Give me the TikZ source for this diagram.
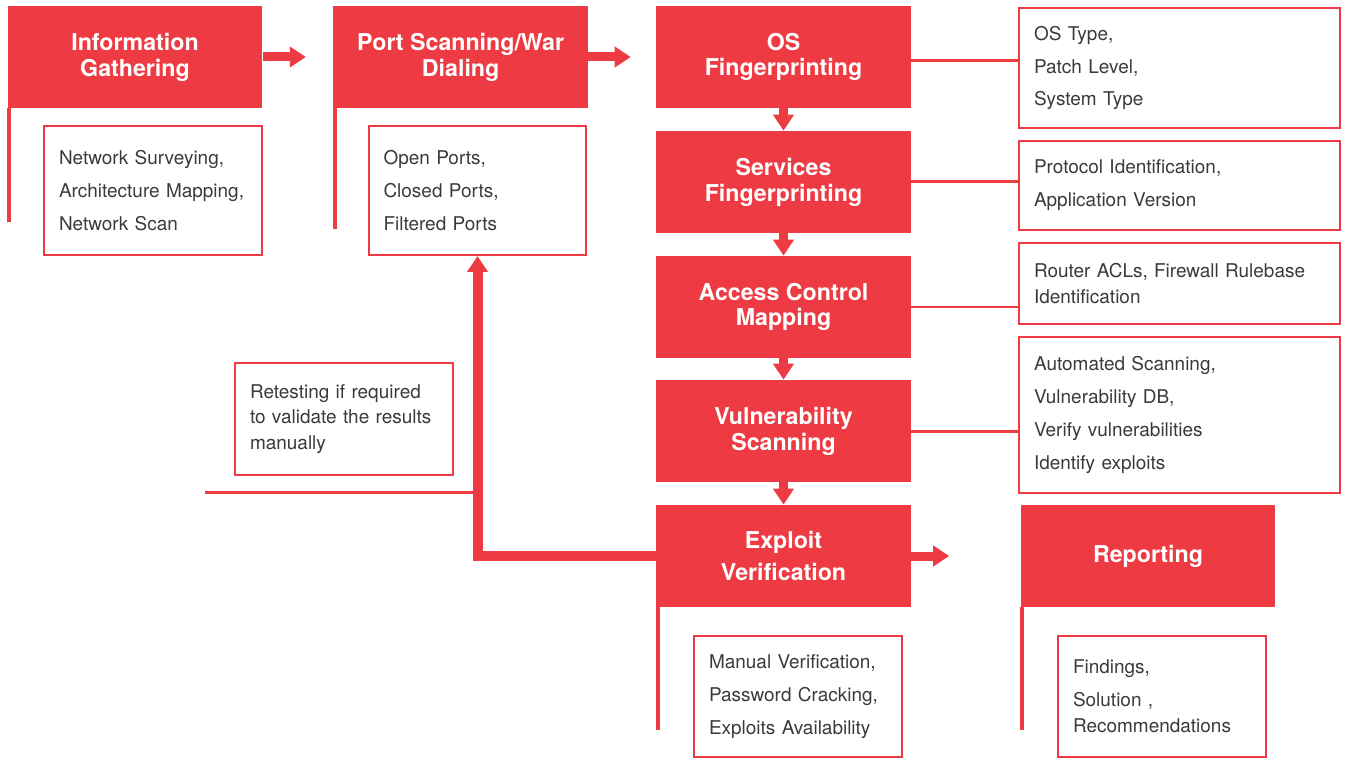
\documentclass[tikz,border=0pt]{standalone}
\usepackage{fontspec}
\setmainfont{TeX Gyre Heros}
\usepackage{xcolor}
\usepackage{tikz}
\usetikzlibrary{positioning,calc,arrows.meta}
\definecolor{brandred}{RGB}{238,59,67}
\definecolor{textgray}{RGB}{58,58,58}
\hyphenpenalty=10000

\begin{document}
\begin{tikzpicture}[x=0.02cm, y=-0.02cm,
        stage/.style={fill=brandred, text=white, align=center, inner sep=0pt, minimum width=5.1cm, minimum height=2.04cm, font=\fontsize{13.2}{14.7}\selectfont\bfseries},
        detail/.style={draw=brandred, line width=0.04cm, text=textgray, align=left, inner xsep=0.3cm, inner ysep=0pt, font=\fontsize{10.8}{18.7}\selectfont},
        tight/.style={font=\fontsize{10.8}{14.7}\selectfont},
        flow/.style={draw=brandred, line width=0.18cm, -{Triangle[length=0.32cm,width=0.4cm]}},
        link/.style={draw=brandred, line width=0.06cm},
        strip/.style={draw=brandred, line width=0.08cm}]
        \useasboundingbox (0,0) rectangle (1346,760);

        \node[stage] (info) at (135,57) {Information\\Gathering};
        \node[stage, right=1.4cm of info] (port) {Port Scanning/War\\Dialing};
        \node[stage] (os) at (783.5,57) {OS\\Fingerprinting};
        \node[stage] (serv) at (783.5,182) {Services\\Fingerprinting};
        \node[stage] (acl) at (783.5,307) {Access Control\\Mapping};
        \node[stage] (vuln) at (783.5,431) {Vulnerability\\Scanning};
        \node[stage, font=\fontsize{13.2}{18.7}\selectfont\bfseries] (exploit) at (783.5,556) {Exploit\\Verification};
        \node[stage] (report) at (1148,556) {Reporting};

        \node[detail, text width=3.76cm, minimum height=2.58cm] (infod) at (153,190.5) {Network Surveying,\\Architecture Mapping,\\Network Scan};
        \node[detail, text width=3.76cm, minimum height=2.58cm] (portd) at (477.5,190.5) {Open Ports,\\Closed Ports,\\Filtered Ports};
        \node[detail, text width=5.82cm, minimum height=2.4cm] (osd) at (1179.5,68) {OS Type,\\Patch Level,\\System Type};
        \node[detail, text width=5.82cm, minimum height=1.78cm] (servd) at (1179.5,185.5) {Protocol Identification,\\Application Version};
        \node[detail, tight, text width=5.82cm, minimum height=1.62cm] (acld) at (1179.5,283.5) {Router ACLs, Firewall Rulebase\\Identification};
        \node[detail, text width=5.82cm, minimum height=3.12cm] (vulnd) at (1179.5,415) {Automated Scanning,\\Vulnerability DB,\\Verify vulnerabilities\\Identify exploits};
        \node[detail, tight, text width=3.76cm, minimum height=2.24cm] (retest) at (344,419) {Retesting if required\\to validate the results\\manually};
        \node[detail, text width=3.56cm, minimum height=2.42cm] (exploitd) at (798,696.5) {Manual Verification,\\Password Cracking,\\Exploits Availability};
        \node[detail, text width=3.56cm, minimum height=2.42cm] (reportd) at (1162,696.5) {Findings,\\Solution ,\\[-4pt]Recommendations};

        \draw[flow] (info.east) -- ([xshift=-0.54cm]port.west);
        \draw[flow] (port.east) -- ([xshift=-0.5cm]os.west);
        \foreach \a/\b in {os/serv,serv/acl,acl/vuln,vuln/exploit}
            \draw[flow] (\a) -- (\b);
        \draw[flow] (exploit.east) -- ([xshift=-1.42cm]report.west);
        \draw[flow, line width=0.2cm] (exploit.west) -| (portd.south);

        \coordinate (retestend) at (205,492);
        \draw[link] (retestend) -- (retestend -| portd.south);

        \draw[link] ([yshift=-0.08cm]os.east) -- ([yshift=-0.08cm]os.east -| osd.west);
        \foreach \a/\b in {serv/servd,acl/acld,vuln/vulnd}
            \draw[link] (\a.east) -- (\a.east -| \b.west);

        \draw[strip] ([xshift=0.04cm]info.south west) -- ++(0,114);
        \draw[strip] ([xshift=0.04cm]port.south west) -- ++(0,121);
        \draw[strip] ([xshift=0.04cm]exploit.south west) -- ++(0,123);
        \draw[strip] ([xshift=0.04cm]report.south west) -- ++(0,123);
    \end{tikzpicture}
\end{document}
